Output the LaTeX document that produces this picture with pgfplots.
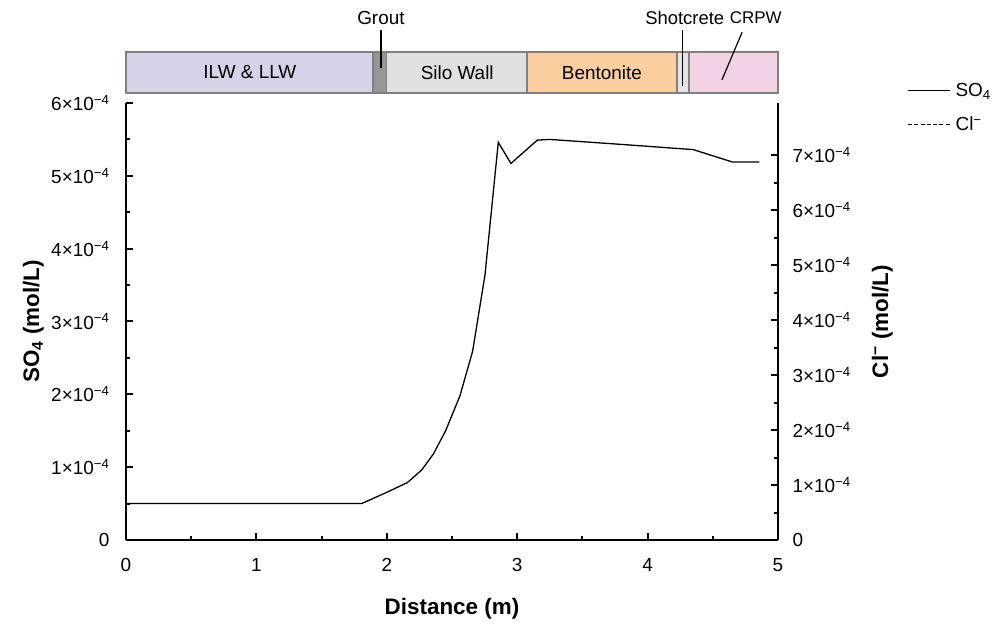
\documentclass[border=0pt]{standalone}
\usepackage{fontspec}
\setmainfont{Liberation Sans}
\usepackage{pgfplots}
\usepackage{pgfplotstable}
\pgfplotsset{compat=1.18}
\definecolor{ilw}{RGB}{215,210,232}
\definecolor{grout}{RGB}{150,150,150}
\definecolor{silo}{RGB}{224,224,224}
\definecolor{bent}{RGB}{250,206,158}
\definecolor{shot}{RGB}{228,228,228}
\definecolor{crpw}{RGB}{241,211,229}
\definecolor{edge}{RGB}{128,128,128}
\pgfplotstableread{
x y
0 5e-5
1.807 5e-5
2.0 6.55e-5
2.157 7.87e-5
2.267 9.6e-5
2.357 1.18e-4
2.451 1.50e-4
2.561 1.98e-4
2.658 2.59e-4
2.753 3.64e-4
2.855 5.46e-4
2.952 5.17e-4
3.154 5.49e-4
3.25 5.50e-4
3.81 5.43e-4
4.35 5.36e-4
4.65 5.19e-4
4.857 5.19e-4
}\sodata
\newcommand{\tf}{\fontsize{19}{21}\selectfont}
\begin{document}
\begin{tikzpicture}
\path[use as bounding box] (0,0) rectangle (997bp,626bp);
\pgfplotsset{
  common/.style={
    at={(126bp,86bp)}, anchor=south west,
    scale only axis, width=652bp, height=437bp,
    xmin=0, xmax=5,
    axis line style={line width=2.2bp,-},
    tick style={line width=2bp, black},
    major tick length=7bp, minor tick length=4bp,
    tick align=inside,
    scaled y ticks=false,
    clip=false,
    tick label style={font=\tf},
    label style={font=\bfseries\fontsize{22.5}{25}\selectfont},
  }
}
\begin{axis}[common,
  ymin=0, ymax=6e-4,
  axis x line*=bottom, axis y line*=left,
  xtick={0,1,2,3,4,5}, xticklabels={0,1,2,3,4,5}, minor x tick num=1,
  ytick={0,1e-4,2e-4,3e-4,4e-4,5e-4,6e-4},
  yticklabels={0,1×10\textsuperscript{−4},2×10\textsuperscript{−4},3×10\textsuperscript{−4},4×10\textsuperscript{−4},5×10\textsuperscript{−4},6×10\textsuperscript{−4}},
  minor y tick num=1,
  xticklabel style={yshift=-15bp},
  yticklabel style={xshift=-13bp},
  xlabel={Distance (m)},
  xlabel style={at={(axis description cs:0.5,-0.158)}, anchor=center},
  ylabel={SO\textsubscript{4} (mol/L)},
  ylabel style={at={(axis description cs:-0.142,0.5)}, anchor=center, rotate=0},
  legend style={at={(axis description cs:1.198,1.058)}, anchor=north west, draw=none, fill=none,
    font=\tf, row sep=9bp, inner sep=0pt, nodes={inner sep=5bp}},
  legend cell align=left,
  legend image code/.code={\draw[#1] (0bp,0bp) -- (42bp,0bp);},
]
\addplot[black, line width=1.3bp] table[x=x,y=y] {\sodata};
\addlegendentry{SO\textsubscript{4}}
\addlegendimage{black, line width=0.9bp, dash pattern=on 4bp off 2.3bp}
\addlegendentry{Cl\textsuperscript{−}}
% layer strip
\begin{scope}[draw=edge, line width=1.2bp]
\filldraw[fill=ilw] (rel axis cs:0,1.0229) rectangle (rel axis cs:0.3788,1.1167);
\filldraw[fill=grout] (rel axis cs:0.3788,1.0229) rectangle (rel axis cs:0.4,1.1167);
\filldraw[fill=silo] (rel axis cs:0.4,1.0229) rectangle (rel axis cs:0.615,1.1167);
\filldraw[fill=bent] (rel axis cs:0.615,1.0229) rectangle (rel axis cs:0.845,1.1167);
\filldraw[fill=shot] (rel axis cs:0.845,1.0229) rectangle (rel axis cs:0.8634,1.1167);
\filldraw[fill=crpw] (rel axis cs:0.8634,1.0229) rectangle (rel axis cs:1,1.1167);
\end{scope}
\begin{scope}[font=\tf]
\node at (rel axis cs:0.19,1.0698) {ILW \& LLW};
\node at (rel axis cs:0.508,1.0698) {Silo Wall};
\node at (rel axis cs:0.73,1.0698) {Bentonite};
\node at (rel axis cs:0.391,1.1945) {Grout};
\node[font=\fontsize{18.5}{20}\selectfont] at (rel axis cs:0.857,1.1945) {Shotcrete};
\node[font=\fontsize{17}{19}\selectfont] at (rel axis cs:0.966,1.1945) {CRPW};
\end{scope}
\draw[black, line width=1.2bp] (rel axis cs:0.391,1.167) -- (rel axis cs:0.391,1.080);
\draw[black, line width=1.2bp] (rel axis cs:0.854,1.167) -- (rel axis cs:0.854,1.039);
\draw[black, line width=1.2bp] (rel axis cs:0.945,1.162) -- (rel axis cs:0.914,1.053);
\end{axis}
\begin{axis}[common,
  ymin=0, ymax=7.95e-4,
  axis x line=none, axis y line*=right,
  ytick={0,1e-4,2e-4,3e-4,4e-4,5e-4,6e-4,7e-4},
  yticklabels={0,1×10\textsuperscript{−4},2×10\textsuperscript{−4},3×10\textsuperscript{−4},4×10\textsuperscript{−4},5×10\textsuperscript{−4},6×10\textsuperscript{−4},7×10\textsuperscript{−4}},
  minor y tick num=1,
  yticklabel style={xshift=11bp},
  ylabel={Cl\textsuperscript{−} (mol/L)},
  ylabel style={at={(axis description cs:1.160,0.5)}, anchor=center, rotate=0},
]
\end{axis}
\end{tikzpicture}
\end{document}
